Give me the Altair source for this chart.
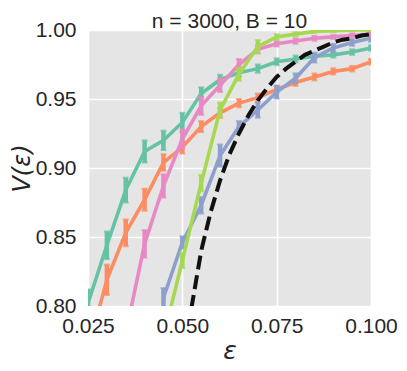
import altair as alt
import pandas as pd

# ---- data ----
eps = [0.025, 0.030, 0.035, 0.040, 0.045, 0.050, 0.055, 0.060,
       0.065, 0.070, 0.075, 0.080, 0.085, 0.090, 0.095, 0.100]

teal = [0.802, 0.844, 0.884, 0.912, 0.920, 0.933, 0.954, 0.964,
        0.969, 0.972, 0.977, 0.979, 0.981, 0.982, 0.984, 0.987]
teal_err = [0.010, 0.010, 0.009, 0.008, 0.007, 0.007, 0.0045, 0.0036,
            0.003, 0.003, 0.0025, 0.0025, 0.0022, 0.002, 0.002, 0.002]

orange = [0.768, 0.819, 0.853, 0.877, 0.904, 0.915, 0.930, 0.940,
          0.947, 0.951, 0.957, 0.962, 0.966, 0.970, 0.972, 0.977]
orange_err = [0.011, 0.011, 0.0097, 0.008, 0.006, 0.0045, 0.004, 0.0035,
              0.003, 0.003, 0.0025, 0.0025, 0.0025, 0.0022, 0.002, 0.002]

blue_eps = eps[4:]
blue = [0.806, 0.846, 0.873, 0.909, 0.930, 0.942, 0.955, 0.965,
        0.980, 0.987, 0.991, 0.994]
blue_err = [0.007, 0.0045, 0.006, 0.008, 0.004, 0.0055, 0.0047, 0.0036,
            0.0036, 0.003, 0.0025, 0.0025]

pink_eps = eps[2:]
pink = [0.780, 0.845, 0.887, 0.921, 0.945, 0.960, 0.975, 0.986,
        0.990, 0.992, 0.994, 0.995, 0.996, 0.997]
pink_err = [0.010, 0.010, 0.0085, 0.007, 0.0066, 0.005, 0.004, 0.003,
            0.002, 0.002, 0.0018, 0.0015, 0.0015, 0.0015]

green_eps = eps[4:]
green = [0.777, 0.833, 0.889, 0.942, 0.968, 0.988, 0.995, 0.997,
         0.999, 0.9995, 1.0, 1.0]
green_err = [0.006, 0.0055, 0.006, 0.0055, 0.0047, 0.0047, 0.002, 0.0015,
             0.001, 0.001, 0.001, 0.001]

theory_eps = [0.0500, 0.0525, 0.0550, 0.0575, 0.0600, 0.0625, 0.0650,
              0.0675, 0.0700, 0.0725, 0.0750, 0.0775, 0.0800, 0.0825,
              0.0850, 0.0875, 0.0900, 0.0925, 0.0950, 0.0975, 0.1000]
theory = [0.755, 0.800, 0.840, 0.868, 0.891, 0.910, 0.925, 0.938, 0.949,
          0.958, 0.966, 0.972, 0.977, 0.982, 0.985, 0.988, 0.991, 0.993,
          0.994, 0.996, 0.997]

series = [
    ("#66c2a5", eps, teal, teal_err),
    ("#fc8d62", eps, orange, orange_err),
    ("#8da0cb", blue_eps, blue, blue_err),
    ("#e78ac3", pink_eps, pink, pink_err),
    ("#a6d854", green_eps, green, green_err),
]

xticks = [0.025, 0.050, 0.075, 0.100]
yticks = [0.80, 0.85, 0.90, 0.95, 1.00]

xscale = alt.Scale(domain=[0.025, 0.100], nice=False, zero=False)
yscale = alt.Scale(domain=[0.80, 1.00], nice=False, zero=False)
xaxis = alt.Axis(values=xticks, format=".3f", title="ε", labelPadding=9,
                 titlePadding=2, labelFlush=False, titleFontSize=25)
yaxis = alt.Axis(values=yticks, format=".2f", title="V(ε)", labelPadding=12,
                 titlePadding=1, labelFlush=False, titleFontSize=24)


def X(field):
    return alt.X(f"{field}:Q", scale=xscale, axis=xaxis)


def Y(field):
    return alt.Y(f"{field}:Q", scale=yscale, axis=yaxis)


layers = []
for color, xs, vs, es in series:
    df = pd.DataFrame({"eps": xs, "v": vs, "err": es})
    df["lo"] = df["v"] - df["err"]
    df["hi"] = df["v"] + df["err"]
    base = alt.Chart(df)
    layers.append(base.mark_line(color=color, strokeWidth=3.6, clip=True)
                  .encode(x=X("eps"), y=Y("v")))
    layers.append(base.mark_rule(color=color, strokeWidth=4.5, clip=True)
                  .encode(x=X("eps"), y=Y("lo"), y2="hi:Q"))
    layers.append(base.mark_tick(color=color, orient="horizontal", size=6,
                                 thickness=2, clip=True)
                  .encode(x=X("eps"), y=Y("lo")))
    layers.append(base.mark_tick(color=color, orient="horizontal", size=6,
                                 thickness=2, clip=True)
                  .encode(x=X("eps"), y=Y("hi")))

tdf = pd.DataFrame({"eps": theory_eps, "v": theory})
layers.append(alt.Chart(tdf).mark_line(color="#111111", strokeWidth=4,
                                       strokeDash=[14, 6], clip=True)
              .encode(x=X("eps"), y=Y("v")))

chart = alt.layer(*layers).properties(
    width=283,
    height=276,
    title=alt.TitleParams("n = 3000, B = 10", fontSize=21,
                          font="Liberation Sans", fontWeight="normal",
                          color="#262626", offset=3, anchor="middle",
                          frame="group", dy=16),
    autosize=alt.AutoSizeParams(type="none"),
    padding={"left": 80, "top": 22, "right": 28, "bottom": 60},
).configure_view(
    fill="#e5e5e5", stroke=None
).configure_axis(
    grid=True, gridColor="white", gridWidth=1.6, domain=False, ticks=False,
    tickSize=0, labelFont="Liberation Sans", labelFontSize=21,
    labelColor="#262626", titleFont="DejaVu Sans", titleFontStyle="italic",
    titleFontWeight="normal", titleColor="#262626"
)

chart.save("out.html", embed_options={"renderer": "svg", "actions": False})
